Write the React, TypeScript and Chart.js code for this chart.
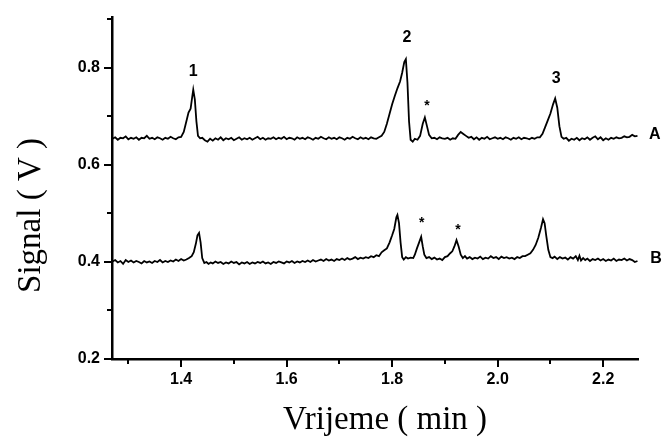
import React, { useEffect, useRef } from "react";
import { Chart, registerables } from "chart.js";

Chart.register(...registerables);

const timeA = [
  1.270, 1.275, 1.280, 1.285, 1.290, 1.295, 1.300, 1.305, 1.310, 1.315, 1.320, 1.325, 1.330, 1.335, 1.340, 1.345,
  1.350, 1.355, 1.360, 1.365, 1.370, 1.375, 1.380, 1.385, 1.390, 1.395, 1.400, 1.405, 1.410, 1.414, 1.418, 1.421,
  1.423, 1.426, 1.429, 1.432, 1.436, 1.440, 1.445, 1.450, 1.455, 1.460, 1.465, 1.470, 1.475, 1.480, 1.485, 1.490,
  1.495, 1.500, 1.505, 1.510, 1.515, 1.520, 1.525, 1.530, 1.535, 1.540, 1.545, 1.550, 1.555, 1.560, 1.565, 1.570,
  1.575, 1.580, 1.585, 1.590, 1.595, 1.600, 1.605, 1.610, 1.615, 1.620, 1.625, 1.630, 1.635, 1.640, 1.645, 1.650,
  1.655, 1.660, 1.665, 1.670, 1.675, 1.680, 1.685, 1.690, 1.695, 1.700, 1.705, 1.710, 1.715, 1.720, 1.725, 1.730,
  1.735, 1.740, 1.745, 1.750, 1.755, 1.760, 1.765, 1.770, 1.775, 1.780, 1.785, 1.790, 1.795, 1.800, 1.805, 1.810,
  1.815, 1.819, 1.823, 1.826, 1.829, 1.832, 1.835, 1.839, 1.843, 1.848, 1.853, 1.858, 1.862, 1.866, 1.870, 1.875,
  1.880, 1.885, 1.890, 1.895, 1.900, 1.905, 1.910, 1.915, 1.920, 1.925, 1.930, 1.935, 1.940, 1.945, 1.950, 1.955,
  1.960, 1.965, 1.970, 1.975, 1.980, 1.985, 1.990, 1.995, 2.000, 2.005, 2.010, 2.015, 2.020, 2.025, 2.030, 2.035,
  2.040, 2.045, 2.050, 2.055, 2.060, 2.065, 2.070, 2.075, 2.080, 2.085, 2.090, 2.095, 2.100, 2.105, 2.109, 2.113,
  2.117, 2.121, 2.125, 2.130, 2.135, 2.140, 2.145, 2.150, 2.155, 2.160, 2.165, 2.170, 2.175, 2.180, 2.185, 2.190,
  2.195, 2.200, 2.205, 2.210, 2.215, 2.220, 2.225, 2.230, 2.235, 2.240, 2.245, 2.250, 2.255, 2.260, 2.265,
];

const signalA = [
  0.654, 0.657, 0.652, 0.656, 0.655, 0.659, 0.653, 0.656, 0.654, 0.657, 0.652, 0.656, 0.655, 0.660, 0.654, 0.656,
  0.653, 0.657, 0.655, 0.652, 0.656, 0.654, 0.658, 0.655, 0.653, 0.657, 0.658, 0.668, 0.690, 0.708, 0.716, 0.740,
  0.755, 0.735, 0.690, 0.660, 0.655, 0.656, 0.651, 0.648, 0.654, 0.650, 0.655, 0.652, 0.657, 0.651, 0.655, 0.653,
  0.656, 0.651, 0.654, 0.657, 0.652, 0.655, 0.653, 0.656, 0.652, 0.655, 0.658, 0.653, 0.656, 0.652, 0.655, 0.654,
  0.657, 0.653, 0.656, 0.654, 0.658, 0.653, 0.656, 0.655, 0.652, 0.657, 0.654, 0.656, 0.653, 0.657, 0.655, 0.652,
  0.656, 0.654, 0.658, 0.655, 0.653, 0.657, 0.654, 0.656, 0.653, 0.657, 0.655, 0.652, 0.656, 0.654, 0.658, 0.655,
  0.653, 0.657, 0.654, 0.656, 0.653, 0.657, 0.655, 0.654, 0.657, 0.660, 0.668, 0.685, 0.705, 0.725, 0.742, 0.758,
  0.772, 0.790, 0.812, 0.818, 0.770, 0.690, 0.652, 0.648, 0.654, 0.652, 0.660, 0.685, 0.698, 0.680, 0.662, 0.655,
  0.656, 0.653, 0.657, 0.655, 0.654, 0.656, 0.652, 0.655, 0.654, 0.662, 0.668, 0.664, 0.660, 0.656, 0.658, 0.653,
  0.657, 0.652, 0.656, 0.654, 0.658, 0.653, 0.655, 0.657, 0.654, 0.656, 0.653, 0.657, 0.655, 0.652, 0.656, 0.654,
  0.657, 0.653, 0.656, 0.655, 0.653, 0.656, 0.654, 0.657, 0.657, 0.664, 0.678, 0.692, 0.706, 0.725, 0.737, 0.718,
  0.680, 0.658, 0.654, 0.656, 0.650, 0.654, 0.652, 0.656, 0.651, 0.655, 0.653, 0.657, 0.652, 0.656, 0.659, 0.653,
  0.657, 0.651, 0.655, 0.652, 0.656, 0.654, 0.657, 0.655, 0.656, 0.659, 0.657, 0.658, 0.662, 0.659, 0.660,
];

const timeB = [
  1.270, 1.275, 1.280, 1.285, 1.290, 1.295, 1.300, 1.305, 1.310, 1.315, 1.320, 1.325, 1.330, 1.335, 1.340, 1.345,
  1.350, 1.355, 1.360, 1.365, 1.370, 1.375, 1.380, 1.385, 1.390, 1.395, 1.400, 1.405, 1.410, 1.415, 1.420, 1.424,
  1.428, 1.431, 1.434, 1.437, 1.440, 1.444, 1.448, 1.452, 1.456, 1.460, 1.465, 1.470, 1.475, 1.480, 1.485, 1.490,
  1.495, 1.500, 1.505, 1.510, 1.515, 1.520, 1.525, 1.530, 1.535, 1.540, 1.545, 1.550, 1.555, 1.560, 1.565, 1.570,
  1.575, 1.580, 1.585, 1.590, 1.595, 1.600, 1.605, 1.610, 1.615, 1.620, 1.625, 1.630, 1.635, 1.640, 1.645, 1.650,
  1.655, 1.660, 1.665, 1.670, 1.675, 1.680, 1.685, 1.690, 1.695, 1.700, 1.705, 1.710, 1.715, 1.720, 1.725, 1.730,
  1.735, 1.740, 1.745, 1.750, 1.755, 1.760, 1.765, 1.770, 1.775, 1.780, 1.785, 1.790, 1.795, 1.800, 1.804, 1.808,
  1.810, 1.813, 1.816, 1.819, 1.822, 1.826, 1.830, 1.835, 1.840, 1.843, 1.847, 1.851, 1.855, 1.858, 1.861, 1.865,
  1.870, 1.875, 1.880, 1.885, 1.890, 1.895, 1.900, 1.905, 1.910, 1.914, 1.918, 1.922, 1.926, 1.930, 1.934, 1.938,
  1.942, 1.947, 1.952, 1.957, 1.962, 1.967, 1.972, 1.977, 1.982, 1.987, 1.992, 1.997, 2.002, 2.007, 2.012, 2.017,
  2.022, 2.027, 2.032, 2.037, 2.042, 2.047, 2.052, 2.057, 2.062, 2.067, 2.072, 2.077, 2.082, 2.086, 2.089, 2.092,
  2.096, 2.100, 2.104, 2.108, 2.113, 2.118, 2.123, 2.128, 2.133, 2.138, 2.143, 2.148, 2.152, 2.155, 2.158, 2.162,
  2.166, 2.170, 2.175, 2.180, 2.185, 2.190, 2.195, 2.200, 2.205, 2.210, 2.215, 2.220, 2.225, 2.230, 2.235, 2.240,
  2.245, 2.250, 2.255, 2.260, 2.265,
];

const signalB = [
  0.401, 0.404, 0.399, 0.402, 0.396, 0.404, 0.400, 0.403, 0.399, 0.402, 0.400, 0.397, 0.402, 0.399, 0.401, 0.398,
  0.402, 0.400, 0.404, 0.399, 0.402, 0.400, 0.403, 0.401, 0.405, 0.402, 0.406, 0.403, 0.405, 0.408, 0.412, 0.420,
  0.438, 0.455, 0.460, 0.440, 0.408, 0.398, 0.400, 0.396, 0.399, 0.397, 0.401, 0.398, 0.400, 0.396, 0.399, 0.397,
  0.401, 0.398, 0.400, 0.395, 0.399, 0.397, 0.400, 0.396, 0.399, 0.397, 0.400, 0.398, 0.401, 0.397, 0.399, 0.396,
  0.400, 0.398, 0.401, 0.399, 0.397, 0.401, 0.399, 0.402, 0.398, 0.401, 0.399, 0.402, 0.400, 0.403, 0.400, 0.404,
  0.401, 0.403, 0.405, 0.402, 0.406, 0.403, 0.405, 0.402, 0.406, 0.404, 0.407, 0.404, 0.408, 0.405, 0.407, 0.410,
  0.406, 0.409, 0.407, 0.410, 0.408, 0.412, 0.410, 0.414, 0.412, 0.420, 0.424, 0.428, 0.440, 0.455, 0.468, 0.492,
  0.497, 0.480, 0.440, 0.410, 0.405, 0.410, 0.407, 0.409, 0.408, 0.415, 0.428, 0.440, 0.452, 0.432, 0.415, 0.408,
  0.410, 0.406, 0.409, 0.405, 0.407, 0.404, 0.410, 0.412, 0.418, 0.422, 0.432, 0.445, 0.432, 0.415, 0.408, 0.412,
  0.407, 0.410, 0.406, 0.409, 0.407, 0.411, 0.406, 0.409, 0.407, 0.412, 0.408, 0.410, 0.406, 0.411, 0.408, 0.410,
  0.407, 0.409, 0.406, 0.410, 0.408, 0.412, 0.412, 0.415, 0.418, 0.425, 0.435, 0.450, 0.470, 0.488, 0.480, 0.455,
  0.425, 0.410, 0.408, 0.411, 0.406, 0.410, 0.407, 0.409, 0.405, 0.410, 0.407, 0.412, 0.404, 0.413, 0.403, 0.408,
  0.404, 0.407, 0.402, 0.406, 0.404, 0.407, 0.403, 0.406, 0.402, 0.405, 0.403, 0.407, 0.402, 0.405, 0.404, 0.407,
  0.403, 0.406, 0.404, 0.400, 0.402,
];

const xMajorTicks = [1.4, 1.6, 1.8, 2.0, 2.2];
const xMinorTicks = [1.3, 1.5, 1.7, 1.9, 2.1];
const yMajorTicks = [0.2, 0.4, 0.6, 0.8];
const yMinorTicks = [0.3, 0.5, 0.7, 0.9];

const annotationText = ["1", "2", "3", "*", "*", "*", "A", "B"];
const annotationX = [1.423, 1.828, 2.111, 1.866, 1.856, 1.925, 2.298, 2.300];
const annotationY = [0.792, 0.862, 0.779, 0.722, 0.480, 0.466, 0.662, 0.408];

const xTitle = "Vrijeme ( min )";
const yTitle = "Signal ( V )";

const BOLD_SANS = '"Liberation Sans", Arial, sans-serif';
const SERIF = '"Liberation Serif", "Times New Roman", serif';

const decorPlugin = {
  id: "decor",
  afterDraw(chart: any) {
    const { ctx, chartArea, scales } = chart;
    const xs = scales.x;
    const ys = scales.y;
    ctx.save();
    ctx.strokeStyle = "#000";
    ctx.lineWidth = 2;
    ctx.lineCap = "butt";
    const drawX = (v: number, len: number) => {
      const px = Math.round(xs.getPixelForValue(v));
      ctx.beginPath();
      ctx.moveTo(px, chartArea.bottom);
      ctx.lineTo(px, chartArea.bottom + len);
      ctx.stroke();
    };
    const drawY = (v: number, len: number) => {
      const py = Math.round(ys.getPixelForValue(v));
      ctx.beginPath();
      ctx.moveTo(chartArea.left, py);
      ctx.lineTo(chartArea.left - len, py);
      ctx.stroke();
    };
    xMajorTicks.forEach((v) => drawX(v, 8));
    xMinorTicks.forEach((v) => drawX(v, 5));
    yMajorTicks.forEach((v) => drawY(v, 8));
    yMinorTicks.forEach((v) => drawY(v, 5));

    ctx.fillStyle = "#000";
    ctx.textAlign = "center";
    ctx.textBaseline = "middle";
    annotationText.forEach((t, i) => {
      ctx.font = t === "*" ? `bold 14px ${BOLD_SANS}` : `bold 16px ${BOLD_SANS}`;
      ctx.fillText(t, xs.getPixelForValue(annotationX[i]), ys.getPixelForValue(annotationY[i]));
    });

    ctx.font = `33px ${SERIF}`;
    ctx.fillText(xTitle, (chartArea.left + chartArea.right) / 2 + 10, chart.height - 21);
    ctx.save();
    ctx.translate(31, chart.height / 2 - 5);
    ctx.rotate(-Math.PI / 2);
    ctx.fillText(yTitle, 0, 0);
    ctx.restore();
    ctx.restore();
  },
};

export default function App() {
  const ref = useRef<HTMLCanvasElement>(null);
  useEffect(() => {
    if (!ref.current) return;
    const chart = new Chart(ref.current, {
      type: "line",
      data: {
        datasets: [
          {
            label: "A",
            data: timeA.map((t, i) => ({ x: t, y: signalA[i] })),
            borderColor: "#000",
            borderWidth: 1.8,
            pointRadius: 0,
            tension: 0,
            fill: false,
          },
          {
            label: "B",
            data: timeB.map((t, i) => ({ x: t, y: signalB[i] })),
            borderColor: "#000",
            borderWidth: 1.8,
            pointRadius: 0,
            tension: 0,
            fill: false,
          },
        ],
      },
      options: {
        animation: false,
        responsive: false,
        layout: { padding: { top: 17, right: 25, left: 0, bottom: 0 } },
        plugins: { legend: { display: false }, tooltip: { enabled: false } },
        scales: {
          x: {
            type: "linear",
            min: 1.269,
            max: 2.266,
            afterBuildTicks: (s: any) => {
              s.ticks = xMajorTicks.map((v) => ({ value: v }));
            },
            afterFit: (s: any) => {
              s.height = 82;
              s.paddingLeft = 0;
              s.paddingRight = 0;
            },
            ticks: {
              padding: 11,
              color: "#000",
              font: { family: BOLD_SANS, size: 16, weight: "bold" },
              callback: (v: any) => Number(v).toFixed(1),
              maxRotation: 0,
            },
            grid: { display: true, drawOnChartArea: false, drawTicks: false },
            border: { display: true, color: "#000", width: 2.5 },
          },
          y: {
            type: "linear",
            min: 0.2,
            max: 0.905,
            afterBuildTicks: (s: any) => {
              s.ticks = yMajorTicks.map((v) => ({ value: v }));
            },
            afterFit: (s: any) => {
              s.width = 112;
              s.paddingTop = 0;
              s.paddingBottom = 0;
            },
            ticks: {
              padding: 12,
              color: "#000",
              font: { family: BOLD_SANS, size: 16, weight: "bold" },
              callback: (v: any) => Number(v).toFixed(1),
            },
            grid: { display: true, drawOnChartArea: false, drawTicks: false },
            border: { display: true, color: "#000", width: 2.5 },
          },
        },
      },
      plugins: [decorPlugin],
    });
    return () => chart.destroy();
  }, []);
  return (
    <div style={{ position: "absolute", left: 0, top: 0, width: 663, height: 441, background: "#fff" }}>
      <canvas ref={ref} width={663} height={441} style={{ width: 663, height: 441 }} />
    </div>
  );
}
